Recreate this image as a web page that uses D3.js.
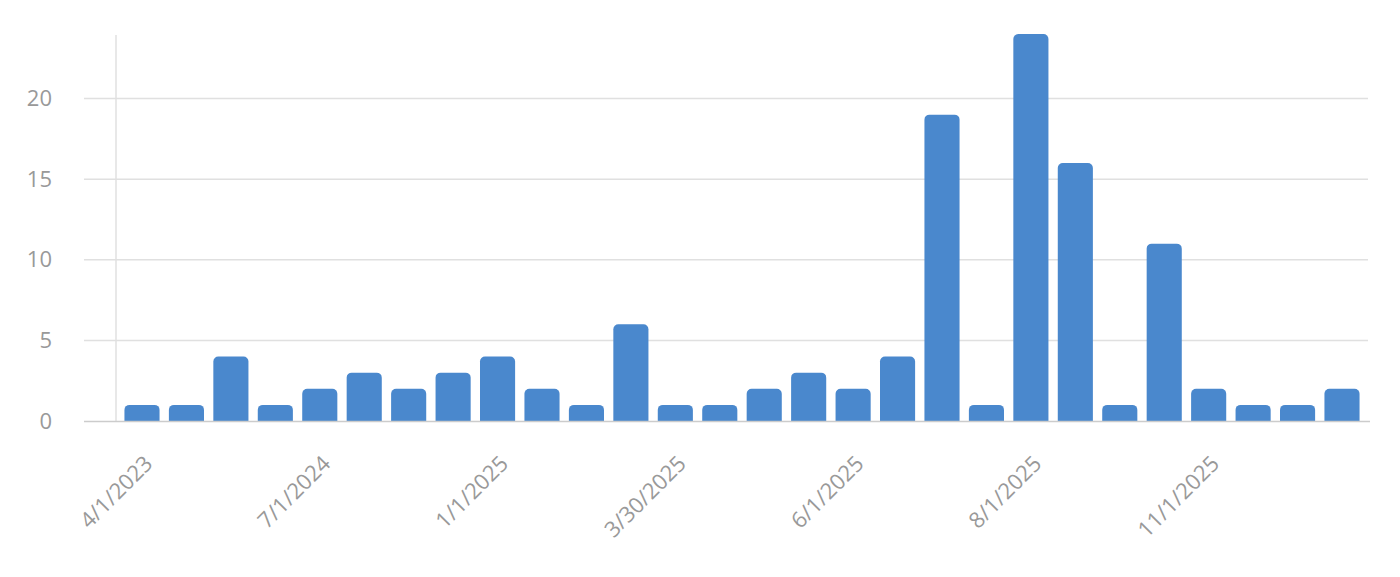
<!DOCTYPE html>
<html>
<head>
<meta charset="utf-8">
<script src="https://cdnjs.cloudflare.com/ajax/libs/d3/7.8.5/d3.min.js"></script>
<style>
  html, body { margin: 0; padding: 0; background: #ffffff; }
  svg { display: block; }
  text { font-family: "Open Sans", "Noto Sans", sans-serif; fill: #999999; }
</style>
</head>
<body>
<svg id="chart" width="1400" height="577"></svg>
<script>
// Data (intermediate category dates are estimates; only every 4th label is shown)
const categories = [
  "4/1/2023","6/1/2023","10/1/2023","3/1/2024",
  "7/1/2024","9/1/2024","10/1/2024","12/1/2024",
  "1/1/2025","2/1/2025","3/1/2025","3/15/2025",
  "3/30/2025","4/15/2025","5/1/2025","5/15/2025",
  "6/1/2025","6/15/2025","7/1/2025","7/15/2025",
  "8/1/2025","8/15/2025","9/1/2025","10/1/2025",
  "11/1/2025","11/15/2025","12/1/2025","12/15/2025"
];
const values = [1,1,4,1,2,3,2,3,4,2,1,6,1,1,2,3,2,4,19,1,24,16,1,11,2,1,1,2];
const xTickLabels = ["4/1/2023","7/1/2024","1/1/2025","3/30/2025","6/1/2025","8/1/2025","11/1/2025"];
const yTicks = [0,5,10,15,20];

const svg = d3.select("#chart");
const plotLeft = 116, plotRight = 1368, plotTop = 34, plotBottom = 421;

const x = d3.scaleBand().domain(categories).range([plotLeft, plotRight])
  .paddingInner(0.21).paddingOuter(0.19);
const y = d3.scaleLinear().domain([0, 24]).range([plotBottom, plotTop]);

// gridlines
svg.append("g").selectAll("line").data(yTicks.filter(d => d > 0)).join("line")
  .attr("x1", 84).attr("x2", plotRight)
  .attr("y1", d => y(d)).attr("y2", d => y(d))
  .attr("stroke", "#e0e0e0").attr("stroke-width", 1.5);

// vertical axis line
svg.append("line").attr("x1", plotLeft).attr("x2", plotLeft)
  .attr("y1", y(24) + 1).attr("y2", plotBottom)
  .attr("stroke", "#e0e0e0").attr("stroke-width", 1.5);

// y labels
svg.append("g").selectAll("text").data(yTicks).join("text")
  .attr("x", 52).attr("y", d => y(d))
  .attr("dy", "0.35em")
  .attr("text-anchor", "end")
  .style("font-size", "22px")
  .text(d => d);

// bars with rounded top corners
const r = 5;
function barPath(d, i) {
  const x0 = x(categories[i]), w = x.bandwidth();
  const y0 = y(d), y1 = y(0);
  const rr = Math.min(r, (y1 - y0) / 2);
  return `M${x0},${y1} L${x0},${y0 + rr} A${rr},${rr} 0 0 1 ${x0 + rr},${y0} L${x0 + w - rr},${y0} A${rr},${rr} 0 0 1 ${x0 + w},${y0 + rr} L${x0 + w},${y1} Z`;
}
svg.append("g").selectAll("path").data(values).join("path")
  .attr("d", barPath)
  .attr("fill", "#4a88cd");

// baseline
svg.append("line").attr("x1", 84).attr("x2", 1370)
  .attr("y1", plotBottom + 0.5).attr("y2", plotBottom + 0.5)
  .attr("stroke", "#cccccc").attr("stroke-width", 1.5);

// x labels
const tickCats = categories.filter(c => xTickLabels.includes(c));
svg.append("g").selectAll("text").data(tickCats).join("text")
  .attr("text-anchor", "end")
  .attr("transform", d => `translate(${x(d) + x.bandwidth() / 2 + 12},${465}) rotate(-45)`)
  .style("font-size", "22px")
  .text(d => d);
</script>
</body>
</html>
